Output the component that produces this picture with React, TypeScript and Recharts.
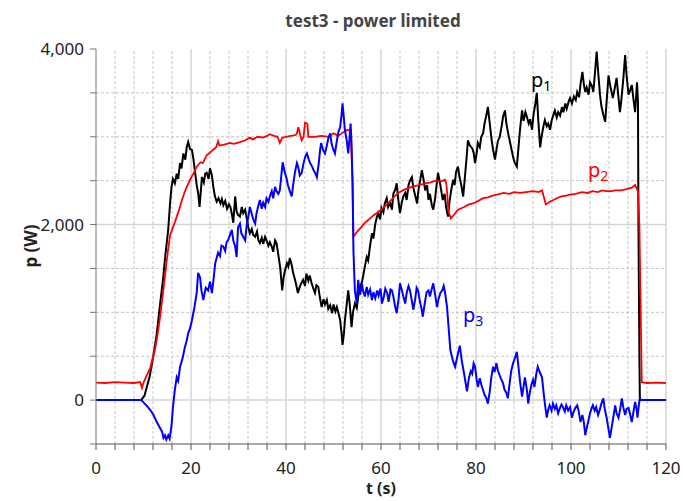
import { LineChart, Line, XAxis, YAxis, ReferenceLine, ReferenceDot } from "recharts";

// t (s), p (W)
const p1: [number, number][] = [
  [0, 0], [9.5, 0], [10.2, 50], [10.7, 150], [11.3, 270], [11.8, 420], [12.3, 580], [12.8, 760], [13.4, 1050],
  [14.1, 1370], [14.6, 1650], [15.2, 1940], [15.6, 2250], [15.9, 2430], [16.2, 2520], [16.6, 2470], [17, 2580],
  [17.3, 2520], [17.7, 2700], [18, 2640], [18.4, 2810], [18.8, 2740], [19.1, 2880], [19.4, 2940], [19.8, 2860],
  [20.2, 2850], [20.5, 2750], [20.8, 2620], [21.2, 2450], [21.5, 2360], [21.8, 2200], [22.1, 2400], [22.3, 2540],
  [22.7, 2480], [23, 2580], [23.3, 2590], [23.7, 2520], [24, 2640], [24.4, 2560], [24.7, 2430], [25, 2330],
  [25.4, 2260], [25.8, 2300], [26.2, 2240], [26.5, 2290], [26.8, 2220], [27.2, 2270], [27.6, 2180], [28, 2230],
  [28.3, 2200], [28.6, 2120], [28.9, 2020], [29.3, 2320], [29.6, 2150], [29.9, 2110], [30.3, 2090], [30.7, 2200],
  [31, 2130], [31.4, 2170], [31.8, 2050], [32.1, 1960], [32.4, 1900], [32.8, 1950], [33.1, 1880], [33.5, 1860],
  [33.9, 1920], [34.2, 1820], [34.5, 1790], [34.9, 1850], [35.2, 1780], [35.6, 1860], [35.9, 1820], [36.3, 1760],
  [36.6, 1800], [37, 1750], [37.3, 1690], [37.7, 1820], [38, 1790], [38.4, 1650], [38.8, 1500], [39.2, 1250],
  [39.5, 1400], [39.8, 1480], [40.2, 1560], [40.5, 1520], [40.8, 1620], [41.2, 1540], [41.5, 1450], [41.9, 1370],
  [42.2, 1300], [42.5, 1220], [42.9, 1290], [43.2, 1330], [43.6, 1370], [44, 1300], [44.3, 1440], [44.7, 1360],
  [45, 1420], [45.4, 1330], [45.7, 1280], [46.1, 1220], [46.4, 1310], [46.8, 1290], [47.1, 1180], [47.5, 1060],
  [47.9, 1150], [48.2, 1090], [48.6, 1140], [48.9, 1040], [49.3, 1080], [49.7, 990], [50, 1090], [50.4, 1010],
  [50.7, 1060], [51.1, 980], [51.4, 910], [51.7, 760], [51.9, 630], [52.2, 760], [52.4, 910], [52.8, 1100],
  [53.1, 1250], [53.4, 1100], [53.8, 830], [54.1, 1000], [54.5, 1100], [54.9, 1050], [55.2, 1180], [55.6, 1280],
  [56, 1350], [56.2, 1400], [56.6, 1520], [57, 1630], [57.3, 1590], [57.7, 1760], [58.1, 1900], [58.4, 1840],
  [58.8, 2010], [59.1, 2080], [59.4, 2130], [59.8, 2060], [60.1, 2190], [60.5, 2140], [60.8, 2240], [61.2, 2300],
  [61.5, 2200], [61.9, 2250], [62.3, 2170], [62.6, 2350], [63, 2400], [63.3, 2470], [63.6, 2300], [64, 2130],
  [64.4, 2260], [64.7, 2320], [65.1, 2360], [65.4, 2280], [65.8, 2450], [66.1, 2500], [66.5, 2540], [66.8, 2420],
  [67.2, 2330], [67.6, 2240], [67.9, 2400], [68.3, 2520], [68.6, 2620], [69, 2500], [69.3, 2390], [69.7, 2450],
  [70, 2280], [70.3, 2350], [70.7, 2220], [71, 2170], [71.4, 2300], [71.7, 2450], [72, 2590], [72.4, 2480],
  [72.7, 2380], [73, 2280], [73.4, 2350], [73.7, 2200], [74.1, 2090], [74.4, 2250], [74.8, 2400], [75.2, 2510],
  [75.5, 2450], [75.8, 2600], [76.2, 2660], [76.5, 2550], [76.9, 2450], [77.3, 2320], [77.6, 2500], [78, 2750],
  [78.3, 2960], [78.7, 2900], [79.2, 2870], [79.5, 2820], [79.8, 2700], [80.1, 2800], [80.4, 2930], [80.8, 2880],
  [81.1, 3000], [81.5, 3040], [81.8, 3150], [82.2, 3250], [82.5, 3340], [82.9, 3150], [83.3, 2960], [83.6, 2850],
  [84, 2740], [84.3, 2850], [84.6, 2950], [85, 3000], [85.4, 3120], [85.7, 3230], [86.1, 3300], [86.4, 3150],
  [86.8, 3030], [87.2, 2930], [87.5, 2850], [87.9, 2750], [88.2, 2700], [88.6, 2660], [88.9, 2850], [89.3, 3100],
  [89.7, 3300], [90, 3180], [90.4, 3280], [90.7, 3230], [91.1, 3150], [91.4, 3200], [91.8, 3080], [92.1, 3250],
  [92.5, 3380], [92.8, 3500], [93.1, 3200], [93.5, 2880], [93.8, 3000], [94.2, 3120], [94.5, 3190], [94.9, 3120],
  [95.2, 3150], [95.6, 3080], [95.9, 3180], [96.3, 3250], [96.6, 3300], [97, 3220], [97.3, 3280], [97.7, 3240],
  [98.1, 3340], [98.4, 3280], [98.8, 3380], [99.1, 3320], [99.5, 3400], [99.8, 3440], [100.2, 3380], [100.6, 3460],
  [101, 3420], [101.3, 3510], [101.7, 3450], [102, 3600], [102.4, 3740], [102.7, 3600], [103, 3510], [103.3, 3560],
  [103.7, 3480], [104, 3620], [104.4, 3580], [104.7, 3510], [105, 3700], [105.4, 3970], [105.7, 3750], [106.1, 3480],
  [106.4, 3350], [106.8, 3250], [107.2, 3170], [107.5, 3400], [107.9, 3700], [108.2, 3600], [108.5, 3520],
  [108.8, 3440], [109.2, 3550], [109.6, 3670], [109.9, 3500], [110.3, 3280], [110.6, 3420], [111, 3650],
  [111.4, 3930], [111.7, 3700], [112.1, 3480], [112.4, 3520], [112.8, 3590], [113.1, 3450], [113.5, 3280],
  [113.9, 3620], [114.1, 3400], [114.2, 2000], [114.4, 500], [114.5, 0], [120, 0],
];

const p2: [number, number][] = [
  [0, 200], [2, 195], [4, 205], [6, 200], [8, 195], [9.3, 205], [9.7, 140], [10, 200], [10.5, 260], [11.4, 365],
  [12.4, 570], [13, 760], [13.5, 950], [14, 1170], [14.5, 1400], [15, 1640], [15.6, 1880], [16, 1940], [16.5, 2010],
  [17, 2090], [17.5, 2170], [18.1, 2280], [18.6, 2360], [19.1, 2430], [20, 2530], [20.5, 2580], [21.2, 2660],
  [22, 2710], [22.5, 2700], [23.3, 2790], [24, 2820], [24.6, 2850], [25.3, 2880], [25.7, 2950], [26, 2900],
  [27, 2910], [28.2, 2930], [29, 2920], [30.3, 2940], [31.4, 2960], [32.4, 2990], [33, 2970], [34, 3000],
  [35.2, 2990], [36, 3010], [36.6, 3030], [37.5, 3010], [38.2, 3000], [38.7, 2930], [39.2, 2990], [40, 3000],
  [41, 3010], [42, 3020], [42.3, 3040], [42.6, 3110], [43, 3020], [43.3, 2960], [43.7, 3000], [44, 3160],
  [44.5, 3150], [44.7, 3000], [46, 3000], [47.5, 3010], [49, 3000], [50, 3040], [51, 3010], [52, 3050], [53, 3080],
  [53.6, 3060], [54, 2500], [54.2, 1860], [55, 1920], [56, 1980], [56.6, 2020], [57.5, 2060], [58.5, 2110],
  [59.4, 2140], [60.5, 2190], [61.5, 2240], [62.5, 2300], [63.6, 2360], [65, 2400], [66.5, 2430], [68, 2450],
  [69.3, 2470], [70.5, 2480], [71.5, 2500], [72.5, 2490], [73.5, 2510], [73.8, 2450], [74.2, 2150], [74.7, 2070],
  [75.5, 2120], [76.2, 2170], [77.5, 2200], [78.5, 2230], [79.4, 2240], [80.5, 2270], [81.5, 2300], [82.5, 2310],
  [83.5, 2330], [84.4, 2340], [85.8, 2360], [87, 2350], [88, 2370], [89.3, 2360], [90.5, 2370], [92, 2380],
  [93.2, 2370], [93.9, 2390], [94.2, 2330], [94.7, 2230], [95.5, 2260], [96.3, 2280], [97, 2300], [98, 2320],
  [99, 2330], [99.8, 2340], [101, 2350], [102.3, 2370], [103.5, 2360], [104.5, 2380], [105.7, 2370], [106.5, 2390],
  [107.5, 2380], [108.5, 2380], [109.3, 2390], [110.5, 2390], [111.5, 2400], [112.8, 2420], [113.5, 2450],
  [113.9, 2400], [114.1, 2380], [114.4, 2000], [114.9, 205], [116, 195], [118, 200], [120, 195],
];

const p3: [number, number][] = [
  [0, 0], [9.5, 0], [9.9, -20], [10.6, -60], [11.4, -110], [12.1, -170], [12.8, -250], [13.4, -310], [13.9, -360],
  [14.2, -430], [14.5, -400], [14.8, -450], [15.2, -400], [15.5, -440], [15.9, -290], [16.2, -80], [16.6, 120],
  [17, 260], [17.3, 220], [17.7, 380], [18.2, 470], [18.7, 600], [19.1, 680], [19.4, 760], [19.8, 820], [20.2, 910],
  [20.7, 1050], [21.2, 1220], [21.5, 1450], [21.9, 1400], [22.2, 1250], [22.6, 1140], [23.1, 1280], [23.6, 1250],
  [24, 1350], [24.4, 1220], [24.8, 1400], [25.1, 1560], [25.4, 1620], [25.7, 1680], [26.1, 1640], [26.4, 1760],
  [26.8, 1750], [27.2, 1700], [27.5, 1800], [27.8, 1820], [28.2, 1880], [28.6, 1940], [28.9, 1820], [29.3, 1750],
  [29.6, 1630], [29.9, 1970], [30.3, 2010], [30.6, 1900], [31, 1860], [31.4, 1820], [31.7, 1980], [32.1, 2100],
  [32.4, 2200], [32.8, 2120], [33.1, 2060], [33.5, 2010], [33.8, 2130], [34.2, 2220], [34.5, 2280], [34.9, 2180],
  [35.2, 2250], [35.6, 2200], [35.9, 2300], [36.3, 2260], [36.6, 2320], [37, 2380], [37.3, 2300], [37.7, 2430],
  [38, 2380], [38.4, 2350], [38.7, 2390], [39, 2550], [39.3, 2710], [39.7, 2600], [40.1, 2530], [40.4, 2450],
  [40.8, 2380], [41.2, 2320], [41.5, 2450], [41.9, 2600], [42.3, 2700], [42.6, 2650], [42.9, 2560], [43.3, 2590],
  [43.7, 2700], [44.1, 2780], [44.4, 2810], [44.8, 2740], [45.1, 2700], [45.5, 2660], [45.8, 2620], [46.2, 2580],
  [46.5, 2540], [46.9, 2700], [47.2, 2860], [47.4, 2930], [47.8, 2850], [48.2, 2810], [48.6, 2900], [48.9, 2980],
  [49.3, 3040], [49.6, 2920], [50, 2850], [50.3, 2810], [50.7, 2950], [51, 3050], [51.4, 3110], [51.7, 3250],
  [51.9, 3380], [52.2, 3200], [52.4, 3080], [52.8, 2950], [53.1, 2810], [53.4, 3000], [53.6, 3150], [53.8, 2930],
  [54, 2500], [54.2, 1700], [54.5, 1250], [54.9, 1100], [55.2, 1370], [55.6, 1200], [56, 1330], [56.2, 1250],
  [56.6, 1180], [57, 1290], [57.3, 1200], [57.7, 1260], [58.1, 1140], [58.4, 1230], [58.8, 1160], [59.2, 1250],
  [59.5, 1190], [59.9, 1270], [60.2, 1100], [60.6, 1180], [60.9, 1270], [61.3, 1220], [61.6, 1120], [62, 1260],
  [62.3, 1250], [62.6, 1180], [63, 1060], [63.3, 990], [63.7, 1150], [64, 1330], [64.4, 1250], [64.7, 1180],
  [65.1, 1100], [65.4, 1220], [65.8, 1300], [66.1, 1250], [66.5, 1130], [66.8, 1030], [67.2, 1150], [67.5, 1280],
  [67.8, 1250], [68.2, 1120], [68.5, 1050], [68.8, 950], [69.2, 1100], [69.6, 1230], [70, 1250], [70.3, 1180],
  [70.7, 1270], [71, 1330], [71.4, 1200], [71.8, 1060], [72.1, 1150], [72.5, 1220], [72.9, 1250], [73.2, 1300],
  [73.5, 1220], [73.9, 1060], [74.2, 850], [74.6, 570], [75, 480], [75.3, 420], [75.6, 380], [76, 480], [76.3, 550],
  [76.6, 620], [77, 450], [77.5, 300], [78.1, 100], [78.5, 250], [78.9, 330], [79.2, 300], [79.5, 420], [79.8, 380],
  [80.1, 250], [80.4, 150], [80.8, 250], [81.1, 180], [81.5, 110], [81.8, 60], [82.2, 20], [82.5, -40], [82.9, 100],
  [83.2, 250], [83.6, 380], [83.9, 320], [84.3, 420], [84.6, 340], [85, 280], [85.3, 240], [85.7, 190], [86, 120],
  [86.4, 80], [86.7, 20], [87.1, 200], [87.4, 330], [87.8, 420], [88.2, 480], [88.6, 550], [88.9, 400], [89.3, 200],
  [89.7, 40], [90, 150], [90.3, 260], [90.7, 120], [91, -40], [91.3, 80], [91.7, 180], [92, 230], [92.3, 150],
  [92.7, 300], [93, 380], [93.4, 320], [93.9, 260], [94.2, 100], [94.5, -40], [94.9, -200], [95.2, -110],
  [95.5, -60], [95.9, -120], [96.2, -40], [96.6, -100], [96.9, -60], [97.3, -150], [97.6, -100], [98, -50],
  [98.3, -80], [98.7, -130], [99, -60], [99.4, -120], [99.8, -80], [100.2, -200], [100.5, -140], [100.9, -90],
  [101.3, -60], [101.6, -120], [102, -250], [102.4, -170], [102.7, -250], [103, -400], [103.3, -320], [103.6, -250],
  [104, -150], [104.3, -100], [104.6, -60], [105, -120], [105.3, -80], [105.7, -170], [106, -120], [106.4, -40],
  [106.8, 20], [107.1, -100], [107.5, -200], [107.8, -300], [108.2, -430], [108.5, -330], [108.9, -200],
  [109.3, -60], [109.6, -150], [110, -200], [110.3, -120], [110.7, 20], [111, -80], [111.4, -170], [111.7, -100],
  [112.1, -90], [112.4, -150], [112.8, -250], [113.1, -150], [113.5, -20], [113.8, -100], [114, -200], [114.3, -50],
  [114.5, 20], [114.8, 0], [120, 0],
];

const xTicks = [0, 4, 8, 12, 16, 20, 24, 28, 32, 36, 40, 44, 48, 52, 56, 60, 64, 68, 72, 76, 80, 84, 88, 92, 96, 100, 104, 108, 112, 116, 120];
const xMajor = [0, 20, 40, 60, 80, 100, 120];
const yTicks = [-500, 0, 500, 1000, 1500, 2000, 2500, 3000, 3500, 4000];
const yMajor = [0, 2000, 4000];

const labels = [
  { name: "1", t: 93.7, p: 3650, color: "#000000" },
  { name: "2", t: 105.7, p: 2620, color: "#ff0000" },
  { name: "3", t: 79.4, p: 970, color: "#0000ff" },
];

const toRows = (pts: [number, number][]) => pts.map(([t, p]) => ({ t, p }));

const font = "'Noto Sans', 'DejaVu Sans', sans-serif";

function XTick({ x, y, payload }: any) {
  if (!xMajor.includes(payload.value)) return <g />;
  return (
    <text x={x} y={y} dy={20} textAnchor="middle" fontSize={17} fontFamily={font} fill="#222">
      {payload.value}
    </text>
  );
}

function YTick({ x, y, payload }: any) {
  if (!yMajor.includes(payload.value)) return <g />;
  return (
    <text x={x} y={y} dy={6} textAnchor="end" fontSize={17} fontFamily={font} fill="#222">
      {payload.value.toLocaleString("en-US")}
    </text>
  );
}

function SubLabel({ cx, cy, name, color }: any) {
  return (
    <text x={cx} y={cy} dy={7} textAnchor="middle" fontFamily={font} fill={color}>
      <tspan fontSize={20}>p</tspan>
      <tspan fontSize={14} dy={4}>{name}</tspan>
    </text>
  );
}

export default function App() {
  return (
    <div style={{ position: "absolute", left: 0, top: 0, width: 683, height: 501, background: "#fff", overflow: "hidden" }}>
      <div
        style={{
          position: "absolute", left: 0, width: 746, top: 9, textAlign: "center",
          fontFamily: font, fontWeight: "bold", fontSize: 17, color: "#444",
        }}
      >
        test3 - power limited
      </div>
      <div
        style={{
          position: "absolute", left: 0, width: 762, top: 480, textAlign: "center", lineHeight: "16px",
          fontFamily: font, fontWeight: "bold", fontSize: 16, color: "#222",
        }}
      >
        t (s)
      </div>
      <div
        style={{
          position: "absolute", left: 30, top: 246, transform: "translate(-50%, -50%) rotate(-90deg)",
          fontFamily: font, fontWeight: "bold", fontSize: 17, color: "#222", whiteSpace: "nowrap",
        }}
      >
        p (W)
      </div>
      <LineChart width={683} height={501} margin={{ top: 49, right: 17, bottom: 17, left: 0 }}>
        <XAxis
          type="number"
          dataKey="t"
          domain={[0, 120]}
          ticks={xTicks}
          interval={0}
          height={40}
          tickSize={6}
          tickMargin={4}
          stroke="#555"
          tick={<XTick />}
          allowDataOverflow
        />
        <YAxis
          type="number"
          dataKey="p"
          domain={[-500, 4000]}
          ticks={yTicks}
          interval={0}
          width={96}
          tickSize={6}
          tickMargin={6}
          stroke="#777"
          tick={<YTick />}
          allowDataOverflow
        />
        {xTicks.filter((t) => t > 0 && !xMajor.includes(t)).map((t) => (
          <ReferenceLine key={"vx" + t} x={t} stroke="#c4c4c4" strokeDasharray="3 2" />
        ))}
        {yTicks.filter((v) => v > 0 && v < 4000 && v !== 2000).map((v) => (
          <ReferenceLine key={"hy" + v} y={v} stroke="#c4c4c4" strokeDasharray="3 2" />
        ))}
        {xMajor.filter((t) => t > 0).map((t) => (
          <ReferenceLine key={"VX" + t} x={t} stroke="#d4d4d4" strokeWidth={1.5} />
        ))}
        <ReferenceLine y={0} stroke="#d4d4d4" strokeWidth={1.5} />
        <ReferenceLine y={2000} stroke="#d4d4d4" strokeWidth={1.5} />
        <Line data={toRows(p1)} dataKey="p" type="linear" stroke="#000000" strokeWidth={2} dot={false} isAnimationActive={false} />
        <Line data={toRows(p2)} dataKey="p" type="linear" stroke="#ff0000" strokeWidth={1.8} dot={false} isAnimationActive={false} />
        <Line data={toRows(p3)} dataKey="p" type="linear" stroke="#0000ff" strokeWidth={2} dot={false} isAnimationActive={false} />
        {labels.map((l) => (
          <ReferenceDot
            key={l.name}
            x={l.t}
            y={l.p}
            r={1}
            shape={(props: any) => <SubLabel cx={props.cx} cy={props.cy} name={l.name} color={l.color} />}
          />
        ))}
      </LineChart>
    </div>
  );
}
